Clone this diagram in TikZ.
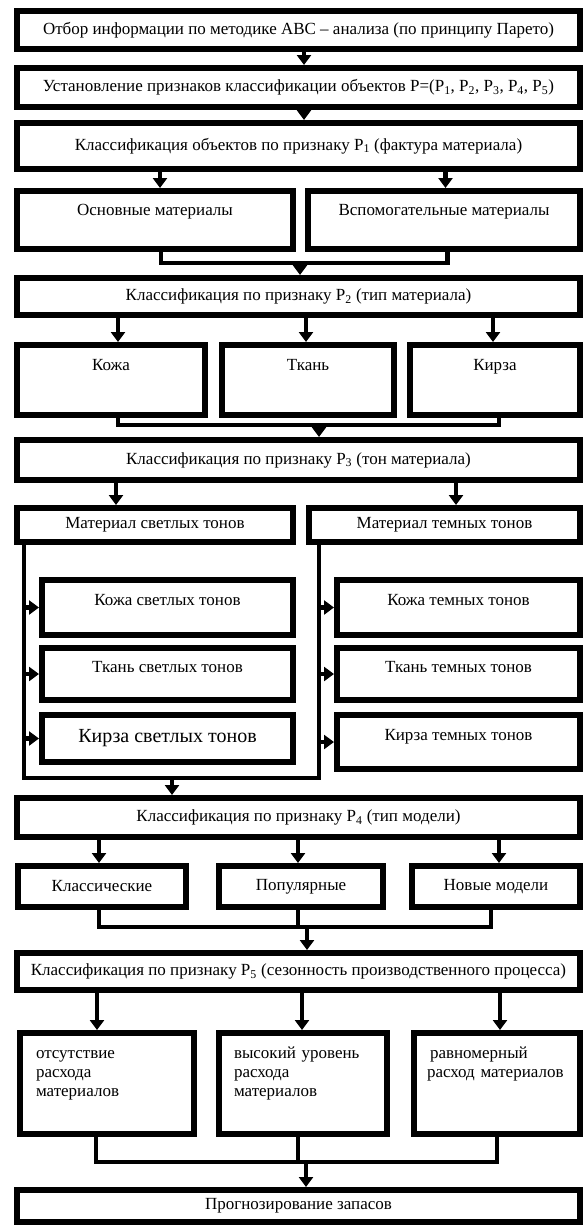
\documentclass[tikz,border=0pt]{standalone}
\usepackage{fontspec}
\setmainfont{Liberation Serif}
\usetikzlibrary{arrows.meta}

\newcommand\boxfont{\fontsize{17}{19}\selectfont}

\tikzset{
  box/.style={draw=black, line width=6pt, inner sep=0pt, align=center, font=\boxfont},
  lbox/.style={box, align=left, text height=25pt, text depth=76pt},
  tb/.style 2 args={text height=#1, text depth=#2},
  conn/.style={line width=4.5pt},
  arr/.style={line width=4.5pt, -{Triangle[width=14pt,length=10pt]}},
}

\begin{document}
\begin{tikzpicture}[x=1pt, y=-1pt]
    \useasboundingbox (0,0) rectangle (588,1227);
    % upper chain
    \node[box, minimum width=563pt, minimum height=38pt] (sel) at (298.5,30) {Отбор информации по методике ABC – анализа (по принципу Парето)};
    \node[box, minimum width=563pt, minimum height=39pt] (est) at (298.5,87.5) {Установление признаков классификации объектов P=(P\textsubscript{1}, P\textsubscript{2}, P\textsubscript{3}, P\textsubscript{4}, P\textsubscript{5})};
    \node[box, minimum width=563pt, minimum height=46pt] (cl1) at (298.5,146) {Классификация объектов по признаку P\textsubscript{1} (фактура материала)};
    \node[box, tb={24pt}{34pt}, minimum width=276pt, minimum height=58pt] (osn) at (155,220) {Основные материалы};
    \node[box, tb={24pt}{34pt}, minimum width=272pt, minimum height=58pt] (vsp) at (444,220) {Вспомогательные материалы};
    \node[box, minimum width=563pt, minimum height=37pt] (cl2) at (298.5,296.5) {Классификация по признаку P\textsubscript{2} (тип материала)};
    \node[box, tb={25pt}{45pt}, minimum width=188pt, minimum height=70pt] (koz) at (111,380) {Кожа};
    \node[box, tb={25pt}{45pt}, minimum width=172pt, minimum height=70pt] (tkn) at (308,380) {Ткань};
    \node[box, tb={25pt}{45pt}, minimum width=170pt, minimum height=70pt] (kir) at (495,380) {Кирза};
    \node[box, minimum width=563pt, minimum height=40pt] (cl3) at (298.5,460) {Классификация по признаку P\textsubscript{3} (тон материала)};
    \node[box, minimum width=276pt, minimum height=34pt] (lgt) at (155,525) {Материал светлых тонов};
    \node[box, minimum width=271pt, minimum height=34pt] (drk) at (444.5,525) {Материал темных тонов};
    % light and dark groups
    \node[box, tb={25pt}{30pt}, minimum width=251pt, minimum height=55pt] (lkoz) at (167.5,607.5) {Кожа светлых тонов};
    \node[box, tb={24pt}{28pt}, minimum width=251pt, minimum height=52pt] (ltkn) at (167.5,674) {Ткань светлых тонов};
    \node[box, font=\fontsize{20}{22}\selectfont, minimum width=251pt, minimum height=47pt] (lkir) at (167.5,738.5) {Кирза светлых тонов};
    \node[box, tb={25pt}{30pt}, minimum width=243pt, minimum height=55pt] (dkoz) at (458.5,607.5) {Кожа темных тонов};
    \node[box, tb={24pt}{28pt}, minimum width=243pt, minimum height=52pt] (dtkn) at (458.5,674) {Ткань темных тонов};
    \node[box, tb={25pt}{29pt}, minimum width=243pt, minimum height=54pt] (dkir) at (458.5,742) {Кирза темных тонов};
    % lower chain
    \node[box, minimum width=563pt, minimum height=39pt] (cl4) at (298.5,817.5) {Классификация по признаку P\textsubscript{4} (тип модели)};
    \node[box, minimum width=168pt, minimum height=41pt] (cls) at (102,886.5) {Классические};
    \node[box, minimum width=164pt, minimum height=41pt] (pop) at (301,886.5) {Популярные};
    \node[box, minimum width=168pt, minimum height=41pt] (nov) at (496,886.5) {Новые модели};
    \node[box, minimum width=563pt, minimum height=37pt] (cl5) at (298.5,971.5) {Классификация по признаку P\textsubscript{5} (сезонность производственного процесса)};
    \node[lbox, text width=142pt, minimum width=174pt, minimum height=101pt] (ots) at (107,1083.5) {отсутствие\\расхода\\материалов};
    \node[lbox, text width=138pt, minimum width=168pt, minimum height=101pt] (vys) at (303,1083.5) {высокий уровень\\расхода\\материалов};
    \node[lbox, text width=140pt, minimum width=166pt, minimum height=101pt] (rav) at (497,1083.5) {\hspace{3pt}равномерный\\расход материалов};
    \node[box, minimum width=563pt, minimum height=32pt] (prg) at (298.5,1206) {Прогнозирование запасов};

    \coordinate (m1) at (300,263);
    \coordinate (m2) at (319,425);
    \coordinate (lb) at ([xshift=10pt]lgt.south west);
    \coordinate (rb) at ([xshift=13pt]drk.south west);
    \coordinate (m3) at (172,778);
    \coordinate (m4) at (307,927);
    \coordinate (m5) at (306,1162);

    \draw[arr] ([xshift=5.5pt]sel.south) -- ([xshift=5.5pt]est.north);
    \draw[arr] ([xshift=5.5pt]est.south) -- ([xshift=5.5pt]cl1.north);
    \draw[arr] ([xshift=5pt]osn.north |- cl1.south) -- ([xshift=5pt]osn.north);
    \draw[arr] ([xshift=1.5pt]vsp.north |- cl1.south) -- ([xshift=1.5pt]vsp.north);
    \draw[conn] ([xshift=6pt]osn.south) |- (m1) -| ([xshift=3.5pt]vsp.south);
    \draw[arr] (m1) -- (m1 |- cl2.north);
    \draw[arr] ([xshift=7pt]koz.north |- cl2.south) -- ([xshift=7pt]koz.north);
    \draw[arr] ([xshift=-2pt]tkn.north |- cl2.south) -- ([xshift=-2pt]tkn.north);
    \draw[arr] ([xshift=-2pt]kir.north |- cl2.south) -- ([xshift=-2pt]kir.north);
    \draw[conn] ([xshift=7pt]koz.south) |- (m2) -| ([xshift=4pt]kir.south);
    \draw[arr] (m2) -- (m2 |- cl3.north);
    \draw[arr] ([xshift=-39pt]lgt.north |- cl3.south) -- ([xshift=-39pt]lgt.north);
    \draw[arr] ([xshift=11.5pt]drk.north |- cl3.south) -- ([xshift=11.5pt]drk.north);
    % bus lines
    \draw[conn] (lb) |- (m3) -| (rb);
    \draw[arr] (lb |- lkoz.west) -- (lkoz.west);
    \draw[arr] (lb |- ltkn.west) -- (ltkn.west);
    \draw[arr] (lb |- lkir.west) -- (lkir.west);
    \draw[arr] (rb |- dkoz.west) -- (dkoz.west);
    \draw[arr] (rb |- dtkn.west) -- (dtkn.west);
    \draw[arr] (rb |- dkir.west) -- (dkir.west);
    \draw[arr] (m3) -- (m3 |- cl4.north);
    \draw[arr] ([xshift=-3pt]cls.north |- cl4.south) -- ([xshift=-3pt]cls.north);
    \draw[arr] ([xshift=-3pt]pop.north |- cl4.south) -- ([xshift=-3pt]pop.north);
    \draw[arr] ([xshift=3pt]nov.north |- cl4.south) -- ([xshift=3pt]nov.north);
    \draw[conn] ([xshift=-3pt]cls.south) |- (m4) -| ([xshift=-5pt]nov.south);
    \draw[conn] ([xshift=-3pt]pop.south) -- ([xshift=-3pt]pop.south |- m4);
    \draw[arr] (m4) -- (m4 |- cl5.north);
    \draw[arr] ([xshift=-10pt]ots.north |- cl5.south) -- ([xshift=-10pt]ots.north);
    \draw[arr] ([xshift=-1pt]vys.north |- cl5.south) -- ([xshift=-1pt]vys.north);
    \draw[arr] ([xshift=3pt]rav.north |- cl5.south) -- ([xshift=3pt]rav.north);
    \draw[conn] ([xshift=-11pt]ots.south) |- (m5) -| (rav.south);
    \draw[conn] ([xshift=-5pt]vys.south) -- ([xshift=-5pt]vys.south |- m5);
    \draw[arr] (m5) -- (m5 |- prg.north);
\end{tikzpicture}
\end{document}
